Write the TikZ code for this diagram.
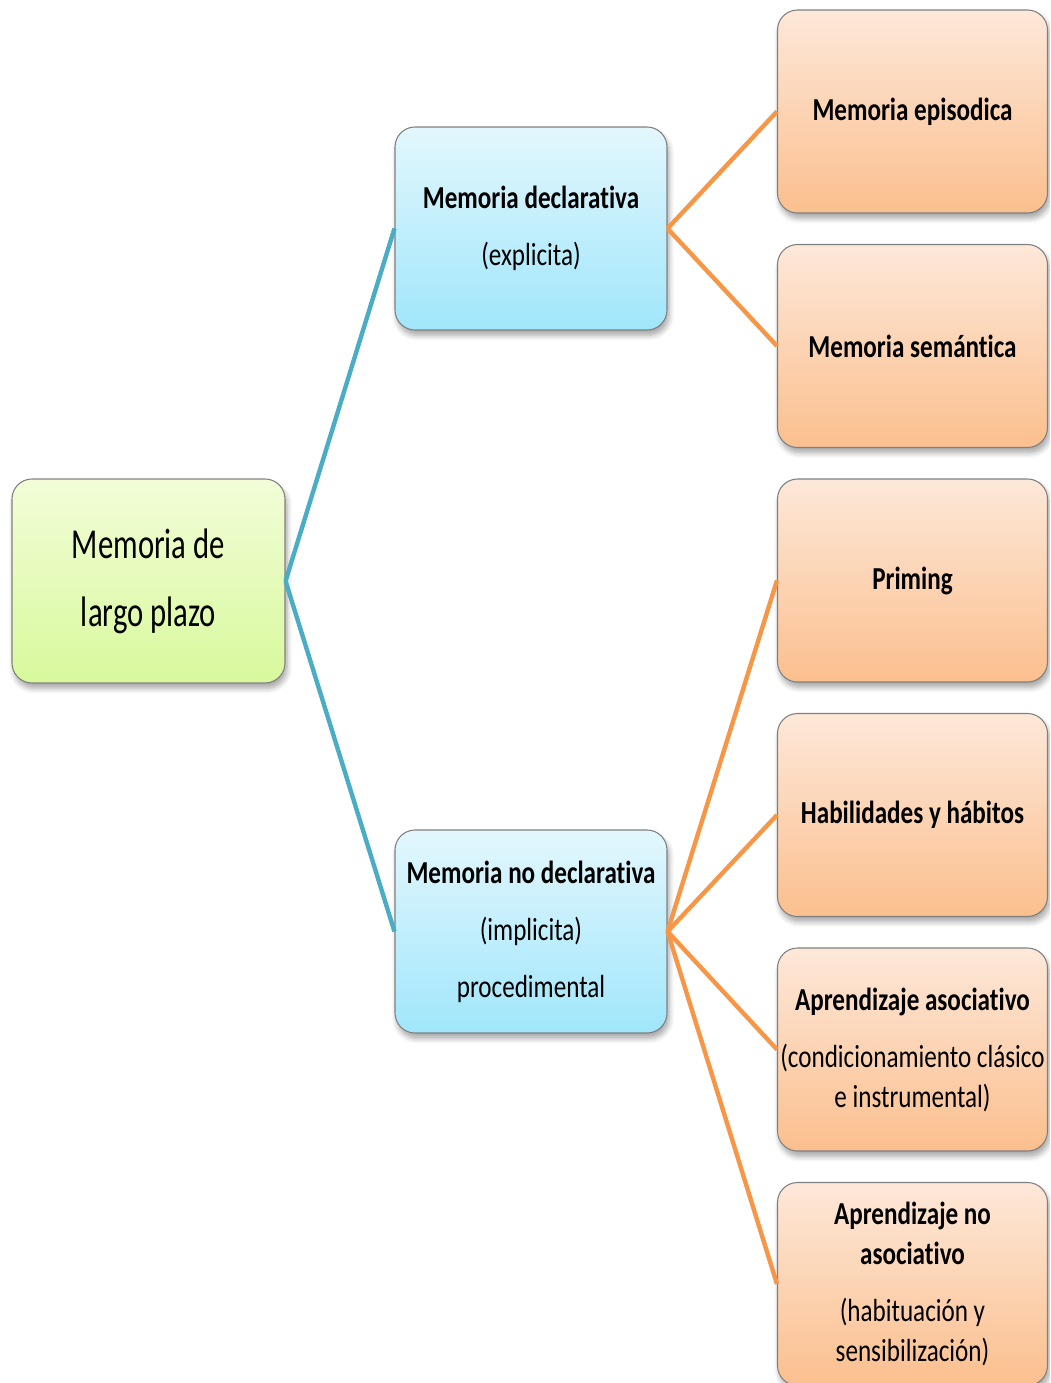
\documentclass[tikz,border=0pt]{standalone}
\usepackage{fontspec}
\usetikzlibrary{shadows.blur}
\newfontfamily\calfont[FakeStretch=0.785, Ligatures=NoCommon]{Carlito}
\newfontfamily\calrootfont[FakeStretch=0.72, Ligatures=NoCommon]{Carlito}

\definecolor{greenTop}{HTML}{F2FDD8}
\definecolor{greenBot}{HTML}{D8F99C}
\definecolor{blueTop}{HTML}{E3F7FD}
\definecolor{blueBot}{HTML}{A0E6FB}
\definecolor{orangeTop}{HTML}{FDE8D9}
\definecolor{orangeBot}{HTML}{FBBF8E}
\definecolor{tealLine}{HTML}{4BACC6}
\definecolor{orangeLine}{HTML}{F79646}
\definecolor{boxBorder}{HTML}{808080}

\tikzset{
  box/.style={draw=boxBorder, line width=0.8pt, rounded corners=15pt,
    shading=axis, shading angle=0, align=center, inner sep=0pt,
    text=black, font=\calfont\fontsize{24}{30}\selectfont,
    blur shadow={shadow blur steps=6, shadow xshift=1.5pt, shadow yshift=-4pt,
      shadow opacity=35, shadow blur radius=4pt}},
  rootbox/.style={box, top color=greenTop, bottom color=greenBot,
    minimum width=204.75pt, minimum height=153pt,
    font=\calrootfont\fontsize{32}{51}\selectfont},
  midbox/.style={box, top color=blueTop, bottom color=blueBot,
    minimum width=204pt, minimum height=152.25pt},
  leafbox/.style={box, top color=orangeTop, bottom color=orangeBot,
    minimum width=202.5pt, minimum height=152.25pt},
  tealedge/.style={draw=tealLine, line width=3.3pt},
  orangeedge/.style={draw=orangeLine, line width=3.3pt},
}

\begin{document}
\begin{tikzpicture}[x=0.75pt, y=-0.75pt]
  \useasboundingbox (0,0) rectangle (1050,1383);
  \clip (0,0) rectangle (1050,1383);

  % root
  \node[rootbox] (root) at (148.5,581) {Memoria de\\largo plazo};

  % second level
  \node[midbox] (decl) at (531,228.5)
    {\textbf{Memoria declarativa}\\[12.75pt](explicita)};
  \node[midbox] (nodecl) at (531,931.5)
    {\textbf{Memoria no declarativa}\\[12.75pt](implicita)\\[12.75pt]procedimental};

  % leaves
  \node[leafbox] (epi) at (912.5,111.5) {\textbf{Memoria episodica}};
  \node[leafbox] (sem) at (912.5,346) {\textbf{Memoria semántica}};
  \node[leafbox] (pri) at (912.5,580.5) {\textbf{Priming}};
  \node[leafbox] (hab) at (912.5,815) {\textbf{Habilidades y hábitos}};
  \node[leafbox] (aso) at (912.5,1049.5)
    {\textbf{Aprendizaje asociativo}\\[12.75pt](condicionamiento clásico\\e instrumental)};
  \node[leafbox] (noaso) at (912.5,1284)
    {\textbf{Aprendizaje no}\\\textbf{asociativo}\\[12.75pt](habituación y\\sensibilización)};

  % connectors
  \draw[tealedge] (root.east) -- (decl.west);
  \draw[tealedge] (root.east) -- (nodecl.west);
  \draw[orangeedge] (decl.east) -- (epi.west);
  \draw[orangeedge] (decl.east) -- (sem.west);
  \draw[orangeedge] (nodecl.east) -- (pri.west);
  \draw[orangeedge] (nodecl.east) -- (hab.west);
  \draw[orangeedge] (nodecl.east) -- (aso.west);
  \draw[orangeedge] (nodecl.east) -- (noaso.west);
\end{tikzpicture}
\end{document}
